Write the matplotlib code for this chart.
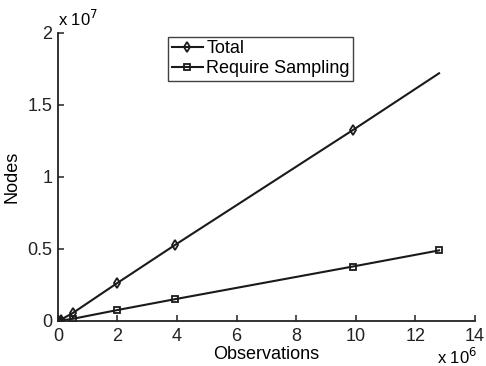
import matplotlib
matplotlib.use("Agg")
import matplotlib.pyplot as plt
from matplotlib.ticker import FuncFormatter

plt.rcParams["font.family"] = ["Liberation Sans", "DejaVu Sans"]

# ── Data ───────────────────────────────────────────────────────────
observations = [0, 0.1e6, 0.5e6, 2.0e6, 3.95e6, 9.9e6, 12.8e6]
total_nodes = [0, 0.09e6, 0.55e6, 2.64e6, 5.3e6, 13.25e6, 17.2e6]
sampling_nodes = [0, 0.03e6, 0.15e6, 0.76e6, 1.52e6, 3.78e6, 4.9e6]

x_ticks = [0, 2e6, 4e6, 6e6, 8e6, 10e6, 12e6, 14e6]
y_ticks = [0, 0.5e7, 1e7, 1.5e7, 2e7]

FS = 13

fig = plt.figure(figsize=(4.86, 3.66), dpi=100)
ax = fig.add_axes([0.119, 0.123, 0.858, 0.787])

ax.plot(observations, total_nodes, color="#1a1a1a", lw=1.5,
        marker="d", ms=5.5, mfc="none", mew=1.3,
        markevery=list(range(len(observations) - 1)), label="Total")
ax.plot(observations, sampling_nodes, color="#1a1a1a", lw=1.5,
        marker="s", ms=5, mfc="none", mew=1.3, label="Require Sampling")

ax.set_xlim(0, 14e6)
ax.set_ylim(0, 2e7)
ax.set_xticks(x_ticks)
ax.set_yticks(y_ticks)
ax.xaxis.set_major_formatter(FuncFormatter(lambda v, p: f"{v / 1e6:g}"))
ax.yaxis.set_major_formatter(FuncFormatter(lambda v, p: f"{v / 1e7:g}"))

for side in ("top", "right"):
    ax.spines[side].set_visible(False)
for side in ("left", "bottom"):
    ax.spines[side].set_linewidth(1.3)
    ax.spines[side].set_color("#222222")
ax.tick_params(direction="in", length=4, width=1.1, labelsize=FS,
               colors="#222222")
ax.tick_params(axis="x", pad=5)
ax.tick_params(axis="y", pad=4)

ax.set_xlabel("Observations", fontsize=FS, labelpad=1)
ax.set_ylabel("Nodes", fontsize=FS, labelpad=5)

ax.text(0.0, 1.012, r"x 10$^{7}$", transform=ax.transAxes,
        fontsize=FS - 1, ha="left", va="bottom")
ax.text(1.005, -0.09, r"x 10$^{6}$", transform=ax.transAxes,
        fontsize=FS - 1, ha="right", va="top")

leg = ax.legend(loc="upper left", bbox_to_anchor=(0.265, 0.987), fontsize=FS,
                frameon=True, fancybox=False, edgecolor="#111111",
                handlelength=1.7, handletextpad=0.2, borderpad=0.2,
                labelspacing=0.15, borderaxespad=0)
leg.get_frame().set_linewidth(1.0)

fig.savefig("out.png", dpi=100, facecolor="white")
